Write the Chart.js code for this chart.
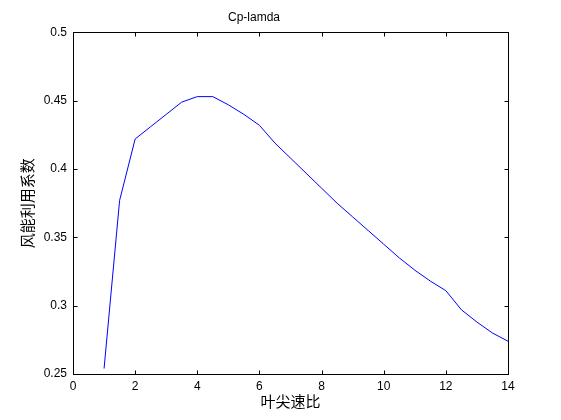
<!DOCTYPE html>
<html>
<head>
<meta charset="utf-8">
<script src="https://cdn.jsdelivr.net/npm/chart.js@4"></script>
<style>
  html, body { margin: 0; padding: 0; background: #fff; }
</style>
</head>
<body>
<canvas id="chart" width="561" height="420"></canvas>
<script>
// tip speed ratio and power coefficient
const lambda = [1, 1.5, 2, 2.5, 3, 3.5, 4, 4.5, 5, 5.5, 6, 6.5, 7, 7.5, 8, 8.5, 9, 9.5, 10, 10.5, 11, 11.5, 12, 12.25, 12.5, 13, 13.5, 14];
const cp = [0.254, 0.377, 0.422, 0.431, 0.440, 0.449, 0.453, 0.453, 0.447, 0.440, 0.432, 0.419, 0.408, 0.397, 0.386, 0.375, 0.365, 0.355, 0.345, 0.335, 0.326, 0.318, 0.311, 0.304, 0.297, 0.288, 0.280, 0.274];

const xTicks = [0, 2, 4, 6, 8, 10, 12, 14];
const yTicks = [0.25, 0.3, 0.35, 0.4, 0.45, 0.5];

const chartTitle = 'Cp-lamda';
const xLabel = '叶尖速比';
const yLabel = '风能利用系数';

const latin = '"Liberation Sans", Arial, sans-serif';
const cjk = '"Noto Sans CJK SC", "Liberation Sans", sans-serif';

// matlab style box with inward ticks on all four sides
const boxPlugin = {
  id: 'box',
  afterDraw(chart) {
    const ctx = chart.ctx;
    const a = chart.chartArea;
    const xs = chart.scales.x, ys = chart.scales.y;
    const l = Math.round(a.left) + 0.5, r = Math.round(a.right) + 0.5;
    const t = Math.round(a.top) + 0.5, b = Math.round(a.bottom) + 0.5;
    const len = 4;
    ctx.save();
    ctx.strokeStyle = '#000';
    ctx.lineWidth = 1;
    ctx.strokeRect(l, t, r - l, b - t);
    ctx.beginPath();
    xTicks.forEach(v => {
      const px = Math.round(xs.getPixelForValue(v)) + 0.5;
      ctx.moveTo(px, b); ctx.lineTo(px, b - len);
      ctx.moveTo(px, t); ctx.lineTo(px, t + len);
    });
    yTicks.forEach(v => {
      const py = Math.round(ys.getPixelForValue(v)) + 0.5;
      ctx.moveTo(l, py); ctx.lineTo(l + len, py);
      ctx.moveTo(r, py); ctx.lineTo(r - len, py);
    });
    ctx.stroke();
    ctx.restore();
  }
};

new Chart(document.getElementById('chart'), {
  type: 'line',
  data: {
    datasets: [{
      data: lambda.map((x, i) => ({ x: x, y: cp[i] })),
      borderColor: '#0000ff',
      borderWidth: 1,
      pointRadius: 0,
      tension: 0,
      fill: false
    }]
  },
  options: {
    responsive: false,
    animation: false,
    devicePixelRatio: 1,
    layout: { padding: { left: 0, right: 53, top: 0, bottom: 0 } },
    plugins: {
      legend: { display: false },
      tooltip: { enabled: false },
      title: {
        display: true,
        text: chartTitle,
        color: '#000',
        font: { family: latin, size: 12, weight: 'normal' },
        padding: { top: 10, bottom: 8 }
      }
    },
    scales: {
      x: {
        type: 'linear',
        min: 0,
        max: 14,
        afterBuildTicks(scale) { scale.ticks = xTicks.map(v => ({ value: v })); },
        afterFit(scale) { scale.height = 46; },
        grid: { display: false, drawTicks: false },
        border: { display: false },
        ticks: { color: '#000', font: { family: latin, size: 12 }, padding: 5, maxRotation: 0 },
        title: {
          display: true,
          text: xLabel,
          color: '#000',
          font: { family: cjk, size: 15 },
          padding: { top: 0, bottom: 10 }
        }
      },
      y: {
        type: 'linear',
        min: 0.25,
        max: 0.5,
        afterBuildTicks(scale) { scale.ticks = yTicks.map(v => ({ value: v })); },
        afterFit(scale) { scale.width = 73; },
        grid: { display: false, drawTicks: false },
        border: { display: false },
        ticks: {
          color: '#000',
          font: { family: latin, size: 12 },
          padding: 6,
          callback: v => String(+v.toFixed(2))
        },
        title: {
          display: true,
          text: yLabel,
          color: '#000',
          font: { family: cjk, size: 15 },
          padding: { top: 18, bottom: 0 }
        }
      }
    }
  },
  plugins: [boxPlugin]
});
</script>
</body>
</html>
